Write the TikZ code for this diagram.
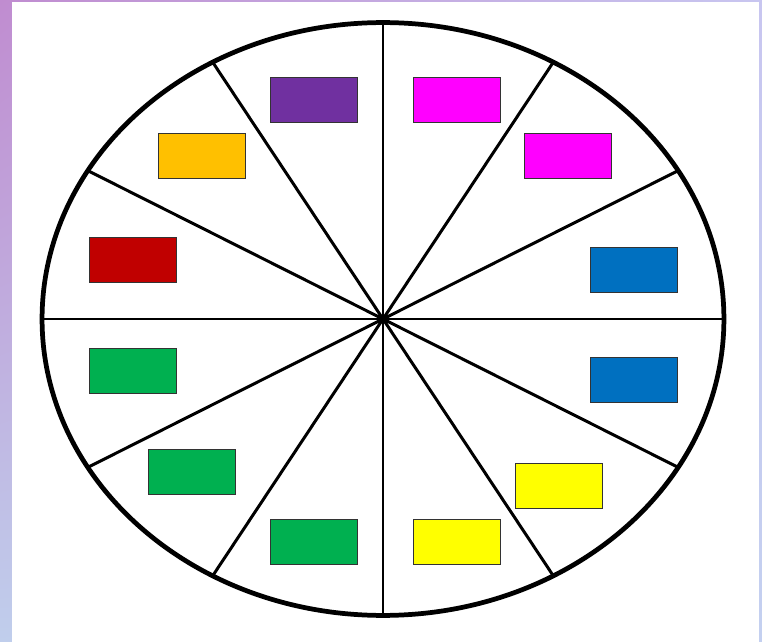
\documentclass[tikz,border=0pt]{standalone}
\usetikzlibrary{calc,shadings}

\definecolor{wheelpurple}{HTML}{7030A0}
\definecolor{wheelmagenta}{HTML}{FF00FF}
\definecolor{wheelorange}{HTML}{FFC000}
\definecolor{wheelred}{HTML}{C00000}
\definecolor{wheelblue}{HTML}{0070C0}
\definecolor{wheelgreen}{HTML}{00B050}
\definecolor{wheelyellow}{HTML}{FFFF00}
\definecolor{slidetl}{RGB}{192,140,208}
\definecolor{slidetr}{RGB}{200,198,240}
\definecolor{slidebl}{RGB}{192,206,236}
\definecolor{slidebr}{RGB}{196,208,240}

\begin{document}
\begin{tikzpicture}[
    x=0.02cm, y=-0.02cm,
    swatch/.style={draw=black!80, line width=0.5pt, inner sep=0pt,
                   minimum width=1.74cm, minimum height=0.9cm},
    rim/.style={draw, line width=2.7pt},
    spoke/.style={draw, line width=1.7pt, line cap=round}
  ]
    % slide background
    \useasboundingbox (0,0) rectangle (762,642);
    \shade[upper left=slidetl, upper right=slidetr,
           lower left=slidebl, lower right=slidebr] (0,0) rectangle (762,642);
    \fill[white] (12,2) rectangle (759,642);

    % wheel
    \coordinate (hub) at (383,319);
    \foreach \a in {0,30,...,330}
      \draw[spoke] (hub) -- ($(hub)+(\a:6.80cm and 5.92cm)$);
    \draw[rim] (hub) ellipse [x radius=6.82cm, y radius=5.93cm];

    % colour swatches
    \node[swatch, fill=wheelpurple]  (purple)   at (313.5,99.5)  {};
    \node[swatch, fill=wheelmagenta] (magentaA) at (457.0,99.5)  {};
    \node[swatch, fill=wheelmagenta] (magentaB) at (568.0,155.5) {};
    \node[swatch, fill=wheelorange]  (orange)   at (202.0,155.5) {};
    \node[swatch, fill=wheelred]     (red)      at (132.5,259.5) {};
    \node[swatch, fill=wheelblue]    (blueA)    at (633.5,269.5) {};
    \node[swatch, fill=wheelgreen]   (greenA)   at (132.5,370.5) {};
    \node[swatch, fill=wheelblue]    (blueB)    at (633.5,379.5) {};
    \node[swatch, fill=wheelgreen]   (greenB)   at (191.5,471.5) {};
    \node[swatch, fill=wheelyellow]  (yellowA)  at (559.0,486.0) {};
    \node[swatch, fill=wheelgreen]   (greenC)   at (313.5,541.5) {};
    \node[swatch, fill=wheelyellow]  (yellowB)  at (457.0,541.5) {};
\end{tikzpicture}
\end{document}
